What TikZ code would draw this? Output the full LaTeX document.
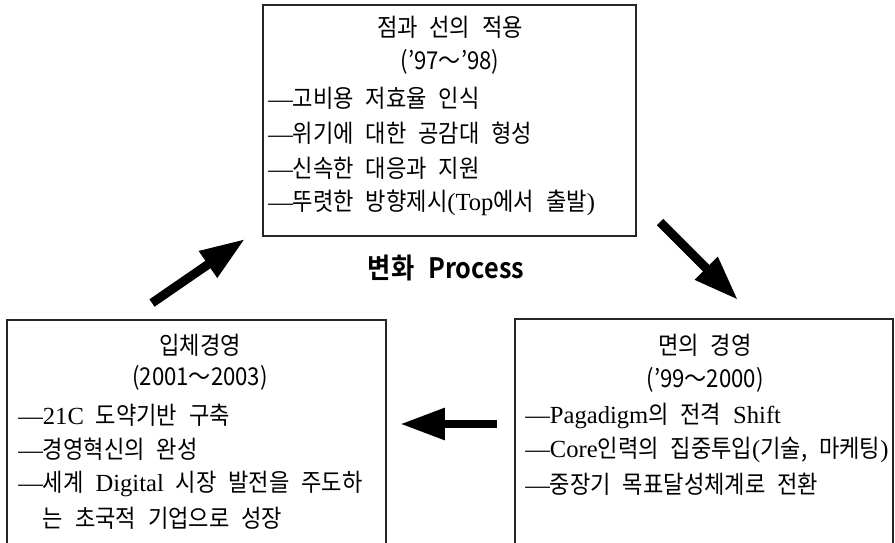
\documentclass[tikz,border=0pt]{standalone}
\usepackage{fontspec}
\usetikzlibrary{arrows.meta}
\setmainfont{Liberation Serif}
\newfontfamily\kr{Noto Sans CJK KR}[FakeStretch=0.9,WordSpace=2.4,BoldFont={Noto Sans CJK KR Bold}]
\newcommand{\ko}[1]{{\kr #1}}

\begin{document}
\begin{tikzpicture}[x=0.02cm,y=-0.02cm,
    every node/.style={inner sep=0pt,font=\fontsize{14}{16}\selectfont},
    head/.style={font=\kr\fontsize{14}{16}\selectfont},
    item/.style={anchor=west},
    bigarrow/.style={line width=0.18cm,-{Triangle[length=0.9cm,width=0.6cm]}}]
  \useasboundingbox (0,0) rectangle (895,543);
  \clip (0,0) rectangle (895,543);

  \draw[line width=0.9pt,black!85] (263,5) rectangle (636,236)
    (7,320) rectangle (386,560) (515,319) rectangle (893,560);

  \node[head] (ttop) at (450,27) {점과 선의 적용};
  \node[head] (ytop) at (450,62) {(’97～’98)};
  \foreach \t [count=\i] in {{—\ko{고비용 저효율 인식}},{—\ko{위기에 대한 공감대 형성}},
      {—\ko{신속한 대응과 지원}},{—\ko{뚜렷한 방향제시}(Top\ko{에서 출발})}}
    \node[item] (ptop\i) at (268,63+35*\i) {\t};

  \node[head] (tright) at (705,345) {면의 경영};
  \node[head] (yright) at (705,380) {(’99～2000)};
  \foreach \t [count=\i] in {{—Pagadigm\ko{의 전격 }Shift},{—Core\ko{인력의 집중투입}(\ko{기술, 마케팅})},
      {—\ko{중장기 목표달성체계로 전환}}}
    \node[item] (pright\i) at (525,382+34*\i) {\t};

  \node[head] (tleft) at (200,345) {입체경영};
  \node[head] (yleft) at (200,378) {(2001～2003)};
  \foreach \t [count=\i] in {{—21C\ko{ 도약기반 구축}},{—\ko{경영혁신의 완성}},
      {—\ko{세계 }Digital\ko{ 시장 발전을 주도하}},{\hphantom{—}\ko{는 초국적 기업으로 성장}}}
    \node[item] (pleft\i) at (18,381+34.3*\i) {\t};

  \node[font=\kr\bfseries\fontsize{16}{18}\selectfont] (proc) at (446,268) {변화 Process};

  \coordinate (fromleft) at (152,303);
  \coordinate (totop) at (245,239);
  \coordinate (fromtop) at (660,222);
  \coordinate (toright) at (738,300);
  \coordinate (fromright) at (497,424);
  \coordinate (toleft) at (400,424);
  \draw[bigarrow] (fromleft) -- (totop);
  \draw[bigarrow] (fromtop) -- (toright);
  \draw[bigarrow] (fromright) -- (toleft);
\end{tikzpicture}
\end{document}
